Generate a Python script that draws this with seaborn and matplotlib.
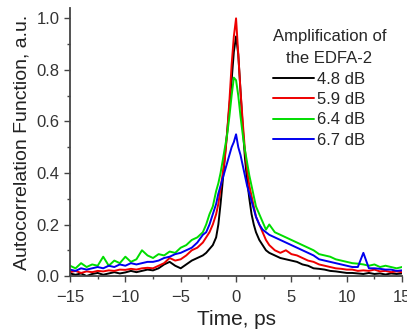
import numpy as np
import pandas as pd
import seaborn as sns
import matplotlib.pyplot as plt

# time axis (ps) - denser around the peak
time = [-15, -14.5, -14, -13.5, -13, -12.5, -12, -11.5, -11, -10.5, -10, -9.5,
        -9, -8.5, -8, -7.5, -7, -6.5, -6, -5.5, -5, -4.5, -4, -3.5,
        -3.0, -2.7, -2.4, -2.1, -1.8, -1.6, -1.4, -1.2, -1.0, -0.8, -0.6, -0.4, -0.2,
        0, 0.2, 0.4, 0.6, 0.8, 1.0, 1.2, 1.4, 1.6, 1.8, 2.1, 2.4, 2.7, 3.0,
        3.5, 4, 4.5, 5, 5.5, 6, 6.5, 7, 7.5, 8, 8.5, 9, 9.5, 10, 10.5,
        11, 11.5, 12, 12.5, 13, 13.5, 14, 14.5, 15]

acf_48 = [0.010, 0.005, 0.010, 0.000, 0.008, 0.012, 0.005, 0.010, 0.015, 0.010, 0.014, 0.020,
          0.015, 0.020, 0.025, 0.022, 0.030, 0.045, 0.055, 0.040, 0.030, 0.045, 0.060, 0.070,
          0.080, 0.090, 0.105, 0.120, 0.150, 0.200, 0.280, 0.370, 0.470, 0.560, 0.660, 0.760, 0.870,
          0.930, 0.860, 0.720, 0.580, 0.460, 0.370, 0.300, 0.240, 0.200, 0.170, 0.140, 0.120, 0.100, 0.090,
          0.080, 0.070, 0.065, 0.060, 0.055, 0.045, 0.040, 0.030, 0.028, 0.025, 0.020, 0.018, 0.015, 0.012, 0.012,
          0.010, 0.008, 0.012, 0.008, 0.010, 0.006, 0.010, 0.008, 0.010]

acf_59 = [0.015, 0.020, 0.012, 0.018, 0.015, 0.020, 0.018, 0.022, 0.020, 0.025, 0.024, 0.028,
          0.025, 0.030, 0.032, 0.030, 0.040, 0.050, 0.070, 0.060, 0.065, 0.080, 0.100, 0.110,
          0.130, 0.150, 0.170, 0.200, 0.240, 0.280, 0.340, 0.400, 0.460, 0.560, 0.680, 0.820, 0.930,
          1.000, 0.860, 0.720, 0.600, 0.490, 0.410, 0.350, 0.310, 0.270, 0.230, 0.200, 0.170, 0.140, 0.120,
          0.100, 0.090, 0.100, 0.085, 0.080, 0.070, 0.060, 0.055, 0.045, 0.040, 0.035, 0.030, 0.028, 0.025, 0.025,
          0.020, 0.022, 0.020, 0.025, 0.018, 0.020, 0.015, 0.018, 0.015]

acf_64 = [0.040, 0.030, 0.050, 0.035, 0.045, 0.040, 0.075, 0.040, 0.060, 0.050, 0.075, 0.055,
          0.065, 0.100, 0.080, 0.070, 0.085, 0.080, 0.095, 0.090, 0.110, 0.120, 0.140, 0.150,
          0.170, 0.200, 0.240, 0.270, 0.330, 0.360, 0.400, 0.450, 0.500, 0.550, 0.620, 0.700, 0.770,
          0.760, 0.700, 0.620, 0.550, 0.490, 0.440, 0.390, 0.350, 0.310, 0.270, 0.240, 0.210, 0.180, 0.200,
          0.170, 0.160, 0.150, 0.140, 0.130, 0.120, 0.110, 0.100, 0.085, 0.080, 0.075, 0.065, 0.060, 0.055, 0.050,
          0.048, 0.045, 0.040, 0.045, 0.035, 0.040, 0.035, 0.030, 0.035]

acf_67 = [0.025, 0.020, 0.030, 0.025, 0.030, 0.035, 0.030, 0.040, 0.035, 0.045, 0.040, 0.050,
          0.045, 0.050, 0.055, 0.055, 0.060, 0.070, 0.075, 0.085, 0.090, 0.100, 0.110, 0.130,
          0.160, 0.170, 0.200, 0.240, 0.280, 0.320, 0.350, 0.380, 0.410, 0.440, 0.470, 0.500, 0.520,
          0.550, 0.500, 0.470, 0.430, 0.390, 0.350, 0.320, 0.290, 0.260, 0.230, 0.200, 0.180, 0.170, 0.160,
          0.150, 0.140, 0.130, 0.120, 0.110, 0.100, 0.090, 0.080, 0.065, 0.060, 0.055, 0.050, 0.045, 0.040, 0.035,
          0.035, 0.090, 0.030, 0.030, 0.028, 0.025, 0.025, 0.020, 0.022]

labels = ["4.8 dB", "5.9 dB", "6.4 dB", "6.7 dB"]
colors = ["black", "#ee0000", "#00dd00", "#0000ee"]

df = pd.concat([
    pd.DataFrame({"time": time, "acf": vals, "gain": lab})
    for vals, lab in zip([acf_48, acf_59, acf_64, acf_67], labels)
])

sns.set_style("ticks")
plt.rcParams['font.family'] = ['Liberation Sans', 'DejaVu Sans']

fig = plt.figure(figsize=(4.07, 3.35), dpi=100)
ax = fig.add_axes([0.172, 0.176, 0.816, 0.800])

sns.lineplot(data=df, x="time", y="acf", hue="gain", palette=colors, lw=1.4, ax=ax)

ax.set_xlim(-15, 15)
ax.set_ylim(0, 1.04)
ax.set_xticks([-15, -10, -5, 0, 5, 10, 15])
ax.set_xticks(np.arange(-12.5, 15, 5), minor=True)
ax.set_yticks([0.0, 0.2, 0.4, 0.6, 0.8, 1.0])
ax.set_yticks([0.1, 0.3, 0.5, 0.7, 0.9], minor=True)
ax.set_yticklabels(["0.0", "0.2", "0.4", "0.6", "0.8", "1.0"])
ax.tick_params(axis="both", which="major", length=4, width=1, labelsize=12, colors="#444444", labelcolor="#333333")
ax.tick_params(axis="both", which="minor", length=2.5, width=1, colors="#444444")
ax.tick_params(axis="x", pad=6)
for s in ["left", "bottom"]:
    ax.spines[s].set_color("#444444")
    ax.spines[s].set_linewidth(1.3)
sns.despine(ax=ax)

ax.set_xlabel("Time, ps", fontsize=15, color="#222222", labelpad=4)
ax.set_ylabel("Autocorrelation Function, a.u.", fontsize=14, color="#222222", labelpad=4)

leg = ax.legend(title="Amplification of\nthe EDFA-2", frameon=False, fontsize=12,
                title_fontsize=12, loc="upper left", bbox_to_anchor=(0.565, 0.977),
                alignment="left", handlelength=2.5, handletextpad=0.15, labelspacing=0.32)
leg.get_title().set_multialignment("center")
leg.get_title().set_linespacing(1.6)
for line in leg.get_lines():
    line.set_linewidth(1.4)

plt.savefig("out.png", dpi=100)
